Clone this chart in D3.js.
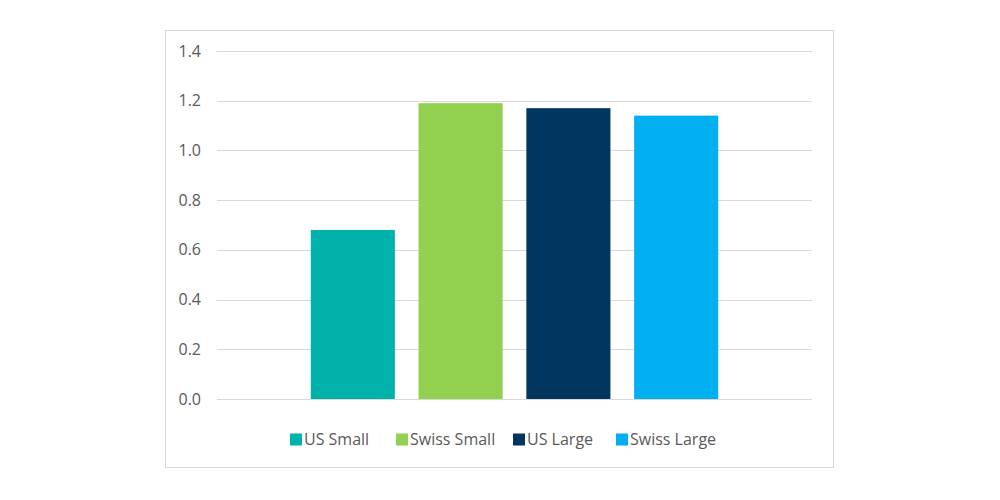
<!DOCTYPE html>
<html>
<head>
<meta charset="utf-8">
<script src="https://cdn.jsdelivr.net/npm/d3@7"></script>
<style>
	body { margin: 0; background: #fff; }
	svg text { font-family: "Open Sans", sans-serif; fill: #595959; }
</style>
</head>
<body>
<svg id="chart" width="1000" height="500"></svg>
<script>
// data
var series = ["US Small", "Swiss Small", "US Large", "Swiss Large"];
var values = [0.68, 1.19, 1.17, 1.14];
var colors = ["#00b2a9", "#92d050", "#003660", "#00b0f0"];
var yTicks = [0, 0.2, 0.4, 0.6, 0.8, 1.0, 1.2, 1.4];

var svg = d3.select("#chart");

// outer frame
svg.append("rect")
	.attr("x", 165.5).attr("y", 30.5)
	.attr("width", 668).attr("height", 437)
	.attr("fill", "#fff")
	.attr("stroke", "#d9d9d9")
	.attr("stroke-width", 1);

var PLOT = { left: 217, right: 812, top: 51, bottom: 399 };

var x = d3.scaleBand()
	.domain(series)
	.range([PLOT.left, PLOT.right])
	.paddingInner(0.22)
	.paddingOuter(0.87);

var y = d3.scaleLinear()
	.domain([0, 1.4])
	.range([PLOT.bottom, PLOT.top]);

// gridlines
svg.append("g").selectAll("line")
	.data(yTicks)
	.enter().append("line")
	.attr("x1", PLOT.left).attr("x2", PLOT.right)
	.attr("y1", function(d) { return Math.round(y(d)) + 0.5; })
	.attr("y2", function(d) { return Math.round(y(d)) + 0.5; })
	.attr("stroke", "#d9d9d9")
	.attr("stroke-width", 1);

// y axis labels (axis without its line)
var yAxis = d3.axisLeft(y)
	.tickValues(yTicks)
	.tickFormat(d3.format(".1f"))
	.tickSize(0)
	.tickPadding(0);

var yG = svg.append("g")
	.attr("transform", "translate(201,0)")
	.call(yAxis);
yG.select(".domain").remove();
yG.selectAll("text")
	.style("font-family", "'Open Sans', sans-serif")
	.style("font-size", "16px")
	.attr("fill", "#595959");

// bars
svg.append("g").selectAll("rect")
	.data(series)
	.enter().append("rect")
	.attr("x", function(d) { return x(d); })
	.attr("width", x.bandwidth())
	.attr("y", function(d, i) { return y(values[i]); })
	.attr("height", function(d, i) { return y(0) - y(values[i]); })
	.attr("fill", function(d, i) { return colors[i]; });

// legend
var legendX = [290, 396, 513, 616];
var legend = svg.append("g").selectAll("g")
	.data(series)
	.enter().append("g")
	.attr("transform", function(d, i) { return "translate(" + legendX[i] + ",439.5)"; });

legend.append("rect")
	.attr("x", 0).attr("y", -6)
	.attr("width", 12).attr("height", 12)
	.attr("fill", function(d, i) { return colors[i]; });

legend.append("text")
	.attr("x", 14).attr("y", 0)
	.attr("dy", "0.35em")
	.style("font-size", "16px")
	.text(function(d) { return d; });
</script>
</body>
</html>
